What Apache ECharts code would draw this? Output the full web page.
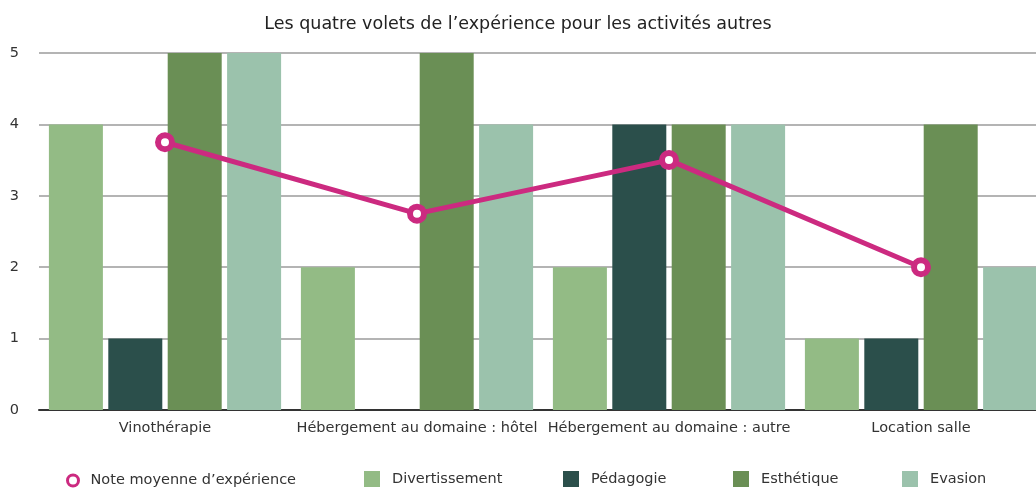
<!DOCTYPE html>
<html>
<head>
<meta charset="utf-8">
<script src="https://cdn.jsdelivr.net/npm/echarts@6/dist/echarts.min.js"></script>
<style>
  html, body { margin: 0; padding: 0; background: #fff; }
  #chart { width: 1036px; height: 488px; }
</style>
</head>
<body>
<div id="chart"></div>
<script>
// Activities on the horizontal axis
const categories = [
  'Vinothérapie',
  'Hébergement au domaine : hôtel',
  'Hébergement au domaine : autre',
  'Location salle'
];
// Scores per experience dimension (0–5)
const divertissement = [4, 2, 2, 1];
const pedagogie = [1, 0, 4, 1];
const esthetique = [5, 5, 4, 4];
const evasion = [5, 4, 4, 2];
// Average experience score
const noteMoyenne = [3.75, 2.75, 3.5, 2];
const yTicks = [0, 1, 2, 3, 4, 5];

const FONT = '"DejaVu Sans", "Liberation Sans", Arial, sans-serif';
const colors = {
  div: '#93bb85',
  ped: '#2b4f4b',
  est: '#6a8f55',
  eva: '#9bc2ac',
  line: '#cc2a80'
};

const chart = echarts.init(document.getElementById('chart'), null, { renderer: 'canvas' });

function barSeries(name, data, color) {
  return {
    name: name,
    type: 'bar',
    data: data,
    barWidth: 54,
    barGap: '10%',
    itemStyle: { color: color },
    z: 2
  };
}

const legendBase = {
  top: 471,
  icon: 'rect',
  itemWidth: 16,
  itemHeight: 16,
  itemGap: 0,
  padding: 0,
  textStyle: { fontFamily: FONT, fontSize: 14.5, color: '#333', padding: [0, 0, 0, 7] },
  selectedMode: false
};

chart.setOption({
  animation: false,
  backgroundColor: '#fff',
  title: {
    text: 'Les quatre volets de l’expérience pour les activités autres',
    left: 'center',
    top: 10,
    textStyle: { fontFamily: FONT, fontSize: 17.5, fontWeight: 'normal', color: '#222' }
  },
  // the plot runs slightly past the right edge, clipping the last bar
  grid: {
    left: 39, width: 1008, top: 53, height: 357,
    containLabel: false, outerBoundsMode: 'none'
  },
  legend: [
    Object.assign({}, legendBase, {
      left: 66, top: 473,
      data: [{ name: 'Note moyenne d’expérience', icon: 'circle',
               itemStyle: { color: '#fff', borderColor: colors.line, borderWidth: 3 } }],
      itemWidth: 11, itemHeight: 11
    }),
    Object.assign({}, legendBase, { left: 364, data: ['Divertissement'] }),
    Object.assign({}, legendBase, { left: 563, data: ['Pédagogie'] }),
    Object.assign({}, legendBase, { left: 733, data: ['Esthétique'] }),
    Object.assign({}, legendBase, { left: 902, data: ['Evasion'] })
  ],
  xAxis: {
    type: 'category',
    data: categories,
    axisTick: { show: false },
    axisLine: { lineStyle: { color: '#333', width: 2 } },
    axisLabel: { fontFamily: FONT, fontSize: 14.5, color: '#333', margin: 11, interval: 0 }
  },
  yAxis: {
    type: 'value',
    min: yTicks[0],
    max: yTicks[yTicks.length - 1],
    interval: 1,
    axisLine: { show: false },
    axisTick: { show: false },
    axisLabel: { fontFamily: FONT, fontSize: 14.5, color: '#333', margin: 20 },
    splitLine: { lineStyle: { color: '#b4b4b4', width: 2 } }
  },
  series: [
    barSeries('Divertissement', divertissement, colors.div),
    barSeries('Pédagogie', pedagogie, colors.ped),
    barSeries('Esthétique', esthetique, colors.est),
    barSeries('Evasion', evasion, colors.eva),
    {
      name: 'Note moyenne d’expérience',
      type: 'line',
      data: noteMoyenne,
      symbol: 'circle',
      symbolSize: 14,
      lineStyle: { color: colors.line, width: 5 },
      itemStyle: { color: '#fff', borderColor: colors.line, borderWidth: 6 },
      z: 5
    }
  ]
});
</script>
</body>
</html>
